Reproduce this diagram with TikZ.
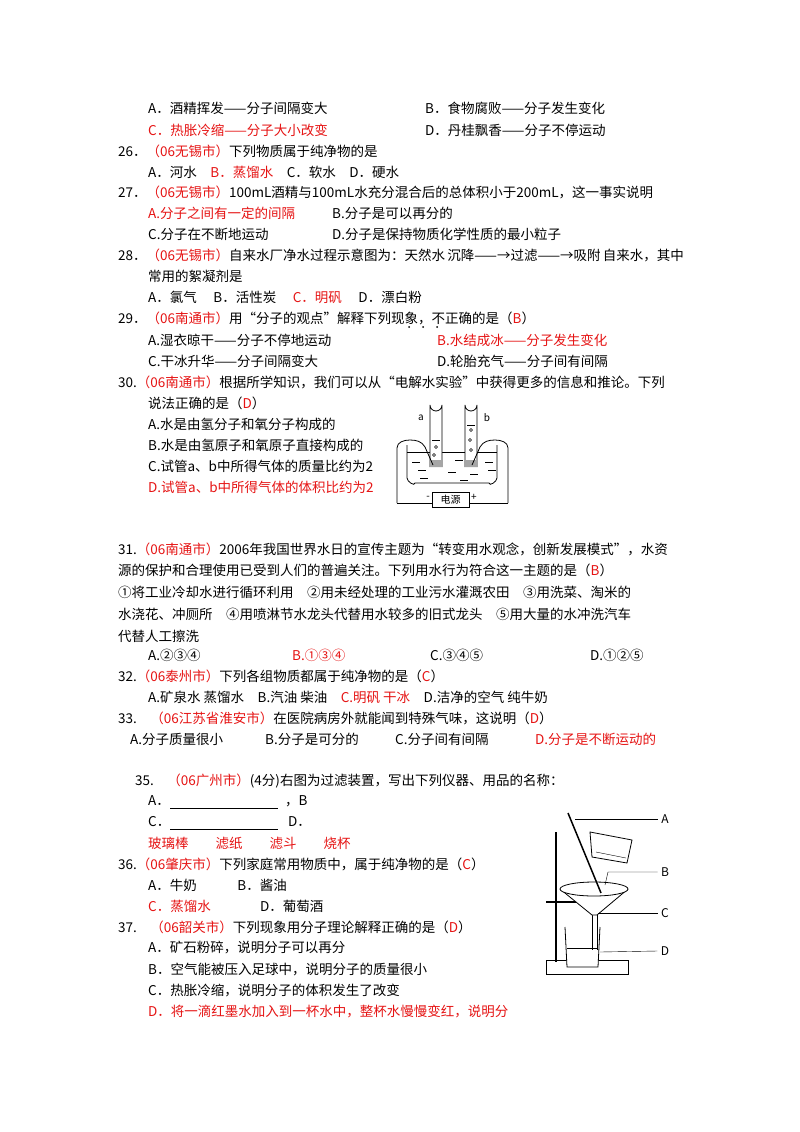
\documentclass[tikz,border=0pt]{standalone}
\usepackage{fontspec}
\setmainfont{Noto Sans CJK SC}
\begin{document}
\begin{tikzpicture}[x=1pt,y=-1pt,
  t/.style={anchor=west,inner sep=0pt,font=\fontsize{13.5}{14}\selectfont},
  r/.style={t,text={rgb,255:red,230;green,20;blue,20}},
  ln/.style={line width=0.8pt}]
\useasboundingbox[fill=white] (0,0) rectangle (800,1132);
\def\R#1{\textcolor[RGB]{230,20,20}{#1}}
\node[t] (l1a) at (148,108) {A．酒精挥发——分子间隔变大};
\node[t] (l1b) at (425,108) {B．食物腐败——分子发生变化};
\node[r] (l2a) at (148,130) {C．热胀冷缩——分子大小改变};
\node[t] (l2b) at (425,130) {D．丹桂飘香——分子不停运动};
\node[t] (q26) at (118,151) {26．\R{（06无锡市）}下列物质属于纯净物的是};
\node[t] (o26) at (148,172) {A．河水\quad \R{B．蒸馏水}\quad C．软水\quad D．硬水};
\node[t] (q27) at (118,192) {27．\R{（06无锡市）}100mL酒精与100mL水充分混合后的总体积小于200mL，这一事实说明};
\node[r] (o27a) at (148,213) {A.分子之间有一定的间隔};
\node[t] (o27b) at (332,213) {B.分子是可以再分的};
\node[t] (o27c) at (148,234) {C.分子在不断地运动};
\node[t] (o27d) at (332,234) {D.分子是保持物质化学性质的最小粒子};
\node[t] (q28) at (118,255) {28．\R{（06无锡市）}自来水厂净水过程示意图为：天然水\,沉降——→过滤——→吸附\,自来水，其中};
\node[t] (q28b) at (148,276) {常用的絮凝剂是};
\node[t] (o28) at (148,297) {A．氯气\quad\ B．活性炭\quad\ \R{C．明矾}\quad\ D．漂白粉};
\node[t] (q29) at (118,318) {29．\R{（06南通市）}用“分子的观点”解释下列现象，不正确的是（\R{B}）};
\fill (409,327) circle (1) (423,327) circle (1) (437,327) circle (1);
\node[t] (o29a) at (148,340) {A.湿衣晾干——分子不停地运动};
\node[r] (o29b) at (437,340) {B.水结成冰——分子发生变化};
\node[t] (o29c) at (148,361) {C.干冰升华——分子间隔变大};
\node[t] (o29d) at (437,361) {D.轮胎充气——分子间有间隔};
\node[t] (q30) at (118,382) {30.\R{（06南通市）}根据所学知识，我们可以从“电解水实验”中获得更多的信息和推论。下列};
\node[t] (q30b) at (148,403) {说法正确的是（\R{D}）};
\node[t] (o30a) at (148,424) {A.水是由氢分子和氧分子构成的};
\node[t] (o30b) at (148,445) {B.水是由氢原子和氧原子直接构成的};
\node[t] (o30c) at (148,466) {C.试管a、b中所得气体的质量比约为2};
\node[r] (o30d) at (148,487) {D.试管a、b中所得气体的体积比约为2};
% electrolysis
\draw[ln] (407,445) -- (407,478) to[out=-90,in=-90] (415,483) -- (489,483) to[out=-90,in=-90] (497,478) -- (497,445);
\draw[ln] (407,452) -- (497,452);
\foreach \x/\y in {412/462,418/470,455/460,470/474,485/462,488/470,448/472,460/480,420/478}
  \draw (\x,\y) -- ++(8,0);
\draw[ln,fill=white] (430,467) -- (430,405) arc (180:0:6) -- (442,467);
\draw[ln,fill=white] (465,467) -- (465,405) arc (180:0:6) -- (477,467);
\fill[gray!70] (431,460) rectangle (441,467) (466,460) rectangle (476,467);
\draw (432,440) -- (440,440) (467,425) -- (475,425);
\draw (436,447) circle (1.5) (434,455) circle (1.5) (471,430) circle (1.5) (470,440) circle (1.5) (471,450) circle (1.5);
\draw[ln] (397,503) -- (397,448) to[out=90,in=180] (410,440) to[out=0,in=120] (425,447) -- (433,465);
\draw[ln] (508,503) -- (508,448) to[out=90,in=0] (495,440) to[out=180,in=60] (480,447) -- (472,465);
\draw[ln] (397,503) -- (432,503) (469,503) -- (508,503);
\node[draw,ln,minimum width=37,minimum height=15,inner sep=0pt,font=\fontsize{10}{10}\selectfont] (ps) at (450.5,500) {电源};
\node[font=\fontsize{10}{10}\selectfont] (lm) at (428,498) {-};
\node[font=\fontsize{10}{10}\selectfont] (lp) at (474,497) {+};
\node[font=\fontsize{10}{10}\selectfont] (la) at (421,418) {a};
\node[font=\fontsize{10}{10}\selectfont] (lb) at (487,418) {b};
\node[t] (q31) at (118,549) {31.\R{（06南通市）}2006年我国世界水日的宣传主题为“转变用水观念，创新发展模式”，水资};
\node[t] (q31b) at (118,570) {源的保护和合理使用已受到人们的普遍关注。下列用水行为符合这一主题的是（\R{B}）};
\node[t] (q31c) at (118,592) {①将工业冷却水进行循环利用\quad ②用未经处理的工业污水灌溉农田\quad ③用洗菜、淘米的};
\node[t] (q31d) at (118,614) {水浇花、冲厕所\quad ④用喷淋节水龙头代替用水较多的旧式龙头\quad ⑤用大量的水冲洗汽车};
\node[t] (q31e) at (118,636) {代替人工擦洗};
\node[t] (o31a) at (148,655) {A.②③④};
\node[r] (o31b) at (292,655) {B.①③④};
\node[t] (o31c) at (430,655) {C.③④⑤};
\node[t] (o31d) at (590,655) {D.①②⑤};
\node[t] (q32) at (118,676) {32.\R{（06泰州市）}下列各组物质都属于纯净物的是（\R{C}）};
\node[t] (o32) at (148,697) {A.矿泉水\ 蒸馏水\quad B.汽油\ 柴油\quad \R{C.明矾\ 干冰}\quad D.洁净的空气\ 纯牛奶};
\node[t] (q33) at (118,718) {33.\quad\R{（06江苏省淮安市）}在医院病房外就能闻到特殊气味，这说明（\R{D}）};
\node[t] (o33a) at (130,739) {A.分子质量很小};
\node[t] (o33b) at (265,739) {B.分子是可分的};
\node[t] (o33c) at (395,739) {C.分子间有间隔};
\node[r] (o33d) at (535,739) {D.分子是不断运动的};
\node[t] (q35) at (135,781) {35.\quad\R{（06广州市）}(4分)右图为过滤装置，写出下列仪器、用品的名称：};
\node[t] (a35) at (148,801) {A．};
\draw (170,808) -- (278,808);
\node[t] (b35) at (285,801) {，B};
\node[t] (c35) at (148,822) {C．};
\draw (170,829) -- (278,829);
\node[t] (d35) at (288,822) {D．};
\node[r] (n35) at (148,843) {玻璃棒\qquad 滤纸\qquad 滤斗\qquad 烧杯};
\node[t] (q36) at (118,864) {36.\R{（06肇庆市）}下列家庭常用物质中，属于纯净物的是（\R{C}）};
\node[t] (o36a) at (148,885) {A．牛奶\qquad\quad B．酱油};
\node[r] (o36c) at (148,906) {C．蒸馏水};
\node[t] (o36d) at (260,906) {D．葡萄酒};
\node[t] (q37) at (118,927) {37.\quad\R{（06韶关市）}下列现象用分子理论解释正确的是（\R{D}）};
\node[t] (o37a) at (148,948) {A．矿石粉碎，说明分子可以再分};
\node[t] (o37b) at (148,969) {B．空气能被压入足球中，说明分子的质量很小};
\node[t] (o37c) at (148,990) {C．热胀冷缩，说明分子的体积发生了改变};
\node[r] (o37d) at (148,1011) {D．将一滴红墨水加入到一杯水中，整杯水慢慢变红，说明分};
% filtration apparatus
\draw[ln] (546,960) -- (628,960) -- (628,974) -- (546,974) -- cycle;
\draw[line width=2pt] (556,832) -- (556,962);
\draw[line width=1.5pt] (546,902) -- (580,902);
\draw[ln,fill=white] (565,927) -- (567,967) -- (598,967) -- (600,927);
\draw (567,948) -- (598,948);
\draw[ln] (592,915) -- (592,950) (597,915) -- (597,950);
\draw[ln,fill=white] (560,889) -- (592,915) -- (597,915) -- (628,889);
\draw[ln,fill=white] (594,889) ellipse (34 and 7);
\draw[ln,fill=white] (590,832) -- (632,840) -- (627,863) -- (592,857) -- cycle;
\draw (596,852) -- (626,858);
\draw[line width=1.5pt] (568,813) -- (601,893);
\coordinate (pA) at (575,819);
\coordinate (pB) at (605,885);
\coordinate (pC) at (598,913);
\coordinate (pD) at (600,952);
\node[font=\fontsize{12}{12}\selectfont] (LA) at (665,819) {A};
\node[font=\fontsize{12}{12}\selectfont] (LB) at (665,872) {B};
\node[font=\fontsize{12}{12}\selectfont] (LC) at (665,913) {C};
\node[font=\fontsize{12}{12}\selectfont] (LD) at (665,951) {D};
\draw (pA) -- (LA.west);
\draw (pB) -- (608,872) -- (LB.west);
\draw (pC) -- (LC.west);
\draw (pD) -- (LD.west);
\end{tikzpicture}
\end{document}
